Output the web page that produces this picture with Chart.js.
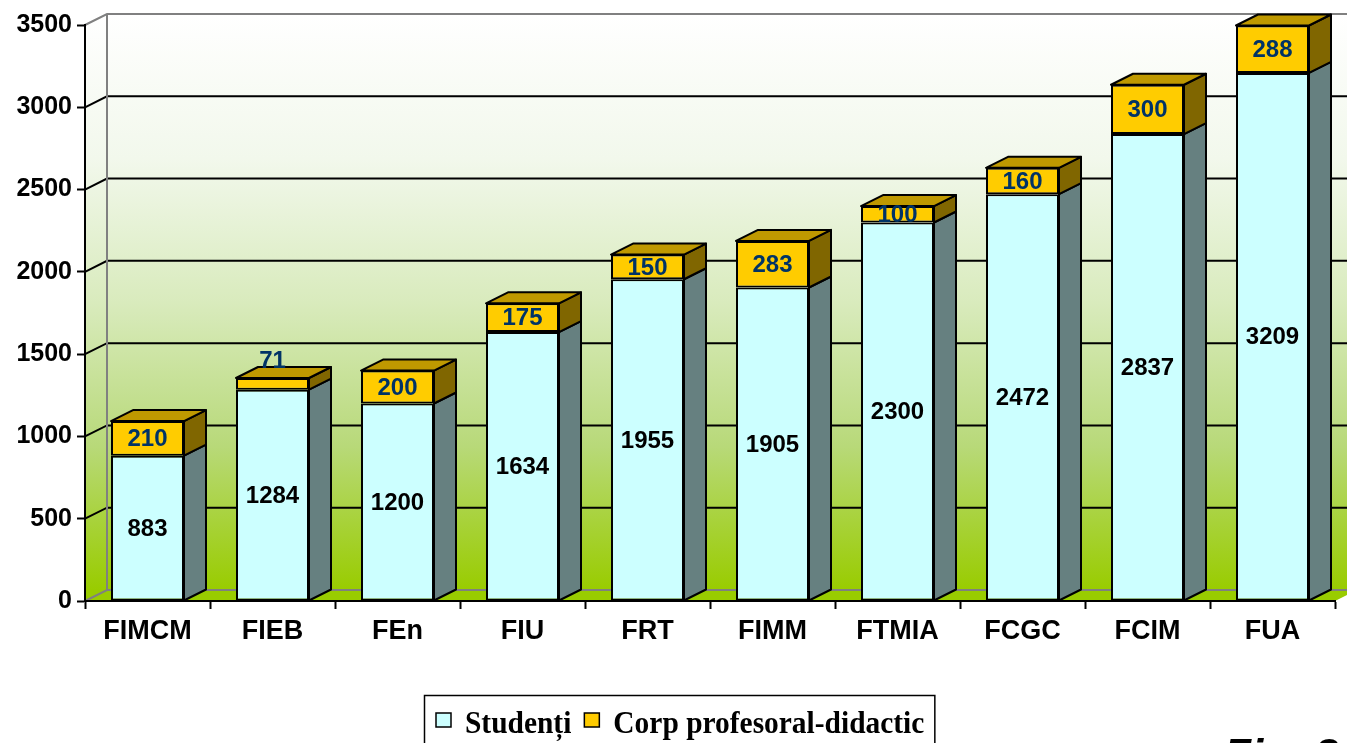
<!DOCTYPE html>
<html>
<head>
<meta charset="utf-8">
<title>Studenți și corp profesoral-didactic pe facultăți</title>
<script src="https://cdn.jsdelivr.net/npm/chart.js@4.4.1/dist/chart.umd.min.js"></script>
<style>
  html, body { margin: 0; padding: 0; background: #ffffff; }
  #wrap { width: 1347px; height: 743px; overflow: hidden; }
  canvas { display: block; }
</style>
</head>
<body>
<div id="wrap"><canvas id="chart" width="1347" height="743"></canvas></div>
<script>
// Faculties and headcounts
const categories = ['FIMCM', 'FIEB', 'FEn', 'FIU', 'FRT', 'FIMM', 'FTMIA', 'FCGC', 'FCIM', 'FUA'];
const students = [883, 1284, 1200, 1634, 1955, 1905, 2300, 2472, 2837, 3209];
const staff = [210, 71, 200, 175, 150, 283, 100, 160, 300, 288];
const yTicks = [0, 500, 1000, 1500, 2000, 2500, 3000, 3500];
const seriesNames = ['Studenți', 'Corp profesoral-didactic'];

// Depth of the pseudo-3D box (pixels to the right / up)
const DX = 22, DY = -11;

// Face colours per series: front, side, top, label colour
const faces = [
  { front: '#ccffff', side: '#668080', top: '#a3cccc', label: '#000000' },
  { front: '#ffcc00', side: '#806600', top: '#bf9900', label: '#003366' }
];

const SANS = '"Liberation Sans", Arial, sans-serif';
const SERIF = '"Liberation Serif", "Times New Roman", serif';

// Back wall, side wall, floor and wall gridlines
const wallPlugin = {
  id: 'wall3d',
  beforeDraw(chart) {
    const { ctx, chartArea: a } = chart;
    const y = chart.scales.y;
    ctx.save();
    ctx.fillStyle = '#ffffff';
    ctx.fillRect(0, 0, chart.width, chart.height);

    const g = ctx.createLinearGradient(0, a.top + DY, 0, a.bottom + DY);
    g.addColorStop(0, '#ffffff');
    g.addColorStop(0.25, '#f2f8ec');
    g.addColorStop(0.5, '#d9ebbd');
    g.addColorStop(0.75, '#b8d979');
    g.addColorStop(1, '#99cc00');

    // side wall
    ctx.fillStyle = g;
    ctx.beginPath();
    ctx.moveTo(a.left, a.top);
    ctx.lineTo(a.left + DX, a.top + DY);
    ctx.lineTo(a.left + DX, a.bottom + DY);
    ctx.lineTo(a.left, a.bottom);
    ctx.closePath();
    ctx.fill();
    // back wall
    ctx.fillRect(a.left + DX, a.top + DY, a.right - a.left, a.bottom - a.top);

    // floor
    ctx.fillStyle = '#99cc00';
    ctx.beginPath();
    ctx.moveTo(a.left, a.bottom);
    ctx.lineTo(a.left + DX, a.bottom + DY);
    ctx.lineTo(a.right + DX, a.bottom + DY);
    ctx.lineTo(a.right, a.bottom);
    ctx.closePath();
    ctx.fill();

    // gridlines running along the side wall and back wall
    y.ticks.forEach(t => {
      const py = y.getPixelForValue(t.value);
      const edge = t.value === y.min || t.value === y.max;
      ctx.strokeStyle = edge ? '#808080' : '#000000';
      ctx.lineWidth = 2;
      ctx.beginPath();
      ctx.moveTo(a.left, py);
      ctx.lineTo(a.left + DX, py + DY);
      ctx.lineTo(a.right + DX + 20, py + DY);
      ctx.stroke();
    });
    // back wall left edge
    ctx.strokeStyle = '#808080';
    ctx.lineWidth = 2;
    ctx.beginPath();
    ctx.moveTo(a.left + DX, a.top + DY);
    ctx.lineTo(a.left + DX, a.bottom + DY);
    ctx.stroke();
    ctx.restore();
  }
};

// Side and top faces of the stacked columns, then value labels
const barPlugin = {
  id: 'bars3d',
  afterDatasetsDraw(chart) {
    const { ctx } = chart;
    const n = chart.data.datasets.length;
    ctx.save();
    ctx.lineWidth = 2;
    ctx.strokeStyle = '#000000';
    ctx.lineJoin = 'round';
    const boxes = [];
    for (let di = 0; di < n; di++) {
      const meta = chart.getDatasetMeta(di);
      meta.data.forEach((el, j) => {
        const p = el.getProps(['x', 'y', 'base', 'width'], true);
        const left = p.x - p.width / 2, right = p.x + p.width / 2;
        const top = Math.min(p.y, p.base), bottom = Math.max(p.y, p.base);
        boxes.push({ di, j, left, right, top, bottom, cx: p.x });
        // side face
        ctx.fillStyle = faces[di].side;
        ctx.beginPath();
        ctx.moveTo(right, top);
        ctx.lineTo(right + DX, top + DY);
        ctx.lineTo(right + DX, bottom + DY);
        ctx.lineTo(right, bottom);
        ctx.closePath();
        ctx.fill();
        ctx.stroke();
        // top face on the uppermost segment
        if (di === n - 1) {
          ctx.fillStyle = faces[di].top;
          ctx.beginPath();
          ctx.moveTo(left, top);
          ctx.lineTo(left + DX, top + DY);
          ctx.lineTo(right + DX, top + DY);
          ctx.lineTo(right, top);
          ctx.closePath();
          ctx.fill();
          ctx.stroke();
        }
      });
    }
    // value labels
    ctx.font = 'bold 24px ' + SANS;
    ctx.textAlign = 'center';
    ctx.textBaseline = 'middle';
    boxes.forEach(b => {
      const v = chart.data.datasets[b.di].data[b.j];
      ctx.fillStyle = faces[b.di].label;
      let ly = (b.top + b.bottom) / 2;
      if (b.bottom - b.top < 14) ly = b.top + DY - 7;
      ctx.fillText(String(v), b.cx, ly + 1);
    });
    ctx.restore();
  }
};

// Legend box below the axis and the figure caption
const legendPlugin = {
  id: 'legendBox',
  afterDraw(chart) {
    const { ctx } = chart;
    const sx = 0.92;
    ctx.save();
    ctx.font = 'bold 32px ' + SERIF;
    ctx.textBaseline = 'alphabetic';
    const boxLeft = 424, boxTop = 695;
    let x = 436;
    const items = chart.data.datasets.map((ds, i) => ({ text: ds.label, color: faces[i].front }));
    const parts = [];
    items.forEach(it => {
      const w = ctx.measureText(it.text).width * sx;
      parts.push({ mx: x, tx: x + 29, w, it });
      x = x + 29 + w + 13;
    });
    const boxRight = x - 13 + 10;
    ctx.lineWidth = 1.5;
    ctx.strokeStyle = '#000000';
    ctx.strokeRect(boxLeft + 0.5, boxTop + 0.5, boxRight - boxLeft, 80);
    parts.forEach(p => {
      ctx.fillStyle = p.it.color;
      ctx.fillRect(p.mx, 713, 15, 14);
      ctx.strokeRect(p.mx, 713, 15, 14);
      ctx.save();
      ctx.translate(p.tx, 733);
      ctx.scale(sx, 1);
      ctx.fillStyle = '#000000';
      ctx.fillText(p.it.text, 0, 0);
      ctx.restore();
    });
    // caption (partly below the visible area)
    ctx.font = 'italic bold 44px ' + SANS;
    ctx.fillStyle = '#000000';
    ctx.textAlign = 'left';
    ctx.fillText('Fig. 2', 1224, 770);
    ctx.restore();
  }
};

new Chart(document.getElementById('chart'), {
  type: 'bar',
  data: {
    labels: categories,
    datasets: [
      {
        label: seriesNames[0],
        data: students,
        backgroundColor: faces[0].front,
        borderColor: '#000000',
        borderWidth: 2,
        borderSkipped: false
      },
      {
        label: seriesNames[1],
        data: staff,
        backgroundColor: faces[1].front,
        borderColor: '#000000',
        borderWidth: 2,
        borderSkipped: false
      }
    ]
  },
  options: {
    responsive: false,
    devicePixelRatio: 1,
    animation: false,
    categoryPercentage: 0.8,
    barPercentage: 0.73,
    layout: { padding: { left: 0, right: 12, top: 25, bottom: 0 } },
    plugins: {
      legend: { display: false },
      tooltip: { enabled: false },
      title: { display: false }
    },
    scales: {
      x: {
        stacked: true,
        grid: { drawOnChartArea: false, drawTicks: true, tickLength: 8, tickColor: '#000000', tickWidth: 2, offset: true },
        border: { color: '#000000', width: 2 },
        ticks: { color: '#000000', font: { family: SANS, size: 27, weight: 'bold' }, padding: 6, maxRotation: 0 },
        afterFit(s) { s.height = 142; }
      },
      y: {
        stacked: true,
        min: 0,
        max: 3500,
        afterBuildTicks(s) { s.ticks = yTicks.map(v => ({ value: v })); },
        grid: { drawOnChartArea: false, drawTicks: true, tickLength: 8, tickColor: '#000000', tickWidth: 2 },
        border: { color: '#000000', width: 2 },
        ticks: {
          color: '#000000',
          font: { family: SANS, size: 25, weight: 'bold' },
          padding: 5,
          callback: v => String(v)
        },
        afterFit(s) { s.width = 85; }
      }
    }
  },
  plugins: [wallPlugin, barPlugin, legendPlugin]
});
</script>
</body>
</html>
